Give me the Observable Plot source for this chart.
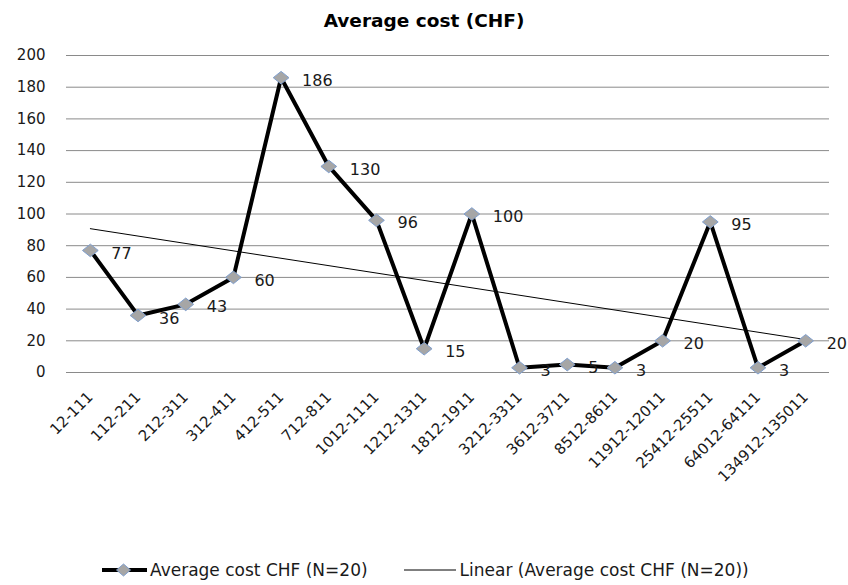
<!DOCTYPE html>
<html>
<head>
<meta charset="utf-8">
<script src="https://cdn.jsdelivr.net/npm/d3@7"></script>
<script src="https://cdn.jsdelivr.net/npm/@observablehq/plot@0.6"></script>
<style>
  body { margin: 0; background: #fff; font-family: "DejaVu Sans", sans-serif; }
  #title { height: 40px; box-sizing: border-box; padding-top: 10px; line-height: 22px; text-align: center; font-weight: bold; font-size: 18.5px; color: #000; }
  #legend { height: 40px; display: flex; align-items: center; font-size: 17px; color: #1a1a1a; }
  .item { display: flex; align-items: center; }
</style>
</head>
<body>
<div id="title">Average cost (CHF)</div>
<div id="chart"></div>
<div id="legend">
  <span class="item" style="margin-left:102px">
    <svg width="45" height="14"><line x1="0" y1="7" x2="45" y2="7" stroke="#000" stroke-width="4"/><path d="M21.5,1 L28.5,7 L21.5,13 L14.5,7 Z" fill="#a6a6a6" stroke="#7f9fcf" stroke-width="1"/></svg>
    <span style="margin-left:3px">Average cost CHF (N=20)</span>
  </span>
  <span class="item" style="margin-left:36px">
    <svg width="52" height="12"><line x1="0" y1="6" x2="52" y2="6" stroke="#000" stroke-width="1"/></svg>
    <span style="margin-left:4px">Linear (Average cost CHF (N=20))</span>
  </span>
</div>
<script>
const categories = ["12-111","112-211","212-311","312-411","412-511","712-811","1012-1111","1212-1311","1812-1911","3212-3311","3612-3711","8512-8611","11912-12011","25412-25511","64012-64111","134912-135011"];
const values = [77,36,43,60,186,130,96,15,100,3,5,3,20,95,3,20];
const yTicks = [0,20,40,60,80,100,120,140,160,180,200];

const data = categories.map((c, i) => ({i, c, v: values[i]}));

// wide diamond symbol (the reference's markers are a bit wider than tall)
const wideDiamond = {
  draw(context, size) {
    const h = Math.sqrt(size / Math.PI);
    const w = h * 1.25;
    context.moveTo(0, -h);
    context.lineTo(w, 0);
    context.lineTo(0, h);
    context.lineTo(-w, 0);
    context.closePath();
  }
};

const font = "'DejaVu Sans', sans-serif";
const chart = Plot.plot({
  width: 848,
  height: 510,
  marginLeft: 66,
  marginRight: 19,
  marginTop: 15,
  marginBottom: 178,
  style: {fontFamily: font, fontSize: "15px", color: "#000", background: "#fff"},
  x: {domain: [-0.5, 15.5], axis: null},
  y: {domain: [0, 200], axis: null},
  marks: [
    Plot.ruleY(yTicks, {stroke: "#8a8a8a", strokeWidth: 1}),
    Plot.axisY(yTicks, {label: null, tickSize: 0, tickPadding: 21, fontSize: 15, textAnchor: "end", stroke: null, fill: "#1a1a1a"}),
    Plot.axisX(d3.range(categories.length), {label: null, tickSize: 0, tickPadding: 22, tickRotate: -45, fontSize: 15, fill: "#1a1a1a", tickFormat: i => categories[i]}),
    Plot.linearRegressionY(data, {x: "i", y: "v", ci: 0, stroke: "#000", strokeWidth: 1}),
    Plot.line(data, {x: "i", y: "v", stroke: "#000", strokeWidth: 4, strokeLinejoin: "miter"}),
    Plot.dot(data, {x: "i", y: "v", symbol: wideDiamond, r: 6.3, fill: "#a6a6a6", stroke: "#7f9fcf", strokeWidth: 1}),
    Plot.text(data, {x: "i", y: "v", text: d => String(d.v), textAnchor: "start", dx: 21, dy: 3, fontSize: 16, fill: "#1a1a1a"})
  ]
});
document.getElementById("chart").appendChild(chart);
</script>
</body>
</html>
